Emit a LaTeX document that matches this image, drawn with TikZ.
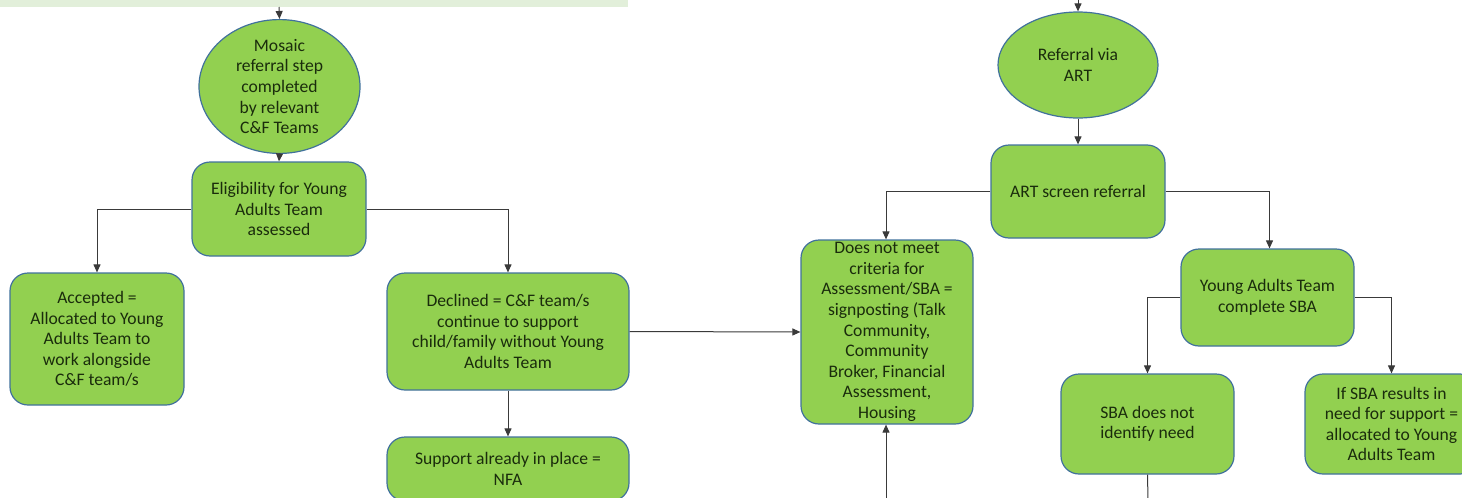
\documentclass[tikz,border=0pt]{standalone}
\usepackage{fontspec}
\setmainfont{Carlito}
\usetikzlibrary{arrows.meta,shapes.geometric}
\definecolor{boxfill}{HTML}{92D050}
\definecolor{boxline}{HTML}{41719C}
\definecolor{txt}{HTML}{1A2C0C}
\definecolor{band}{HTML}{E2EFDA}
\definecolor{conn}{HTML}{3A3A3A}
\begin{document}
\begin{tikzpicture}[x=1pt,y=-1pt,
  every node/.style={font=\fontsize{17.6}{20.6}\selectfont, text=txt, align=center, inner sep=0pt},
  stepbox/.style={draw=boxline, fill=boxfill, line width=1.2pt, rounded corners=18pt, rectangle},
  ovalbox/.style={draw=boxline, fill=boxfill, line width=1.2pt, ellipse},
  conn/.style={draw=conn, line width=1pt, -{Triangle[length=8pt,width=7pt]}},
  plain/.style={draw=conn, line width=1pt}]
\useasboundingbox (0,0) rectangle (1462,498);
\clip (0,0) rectangle (1462,498);
\fill[band] (0,-2) rectangle (628,7);
% left column
\node[ovalbox, minimum width=161pt, minimum height=119pt] (mosaic) at (279.5,86.5) {Mosaic\\referral step\\completed\\by relevant\\C\&F Teams};
\node[stepbox, minimum width=174pt, minimum height=94pt] (elig) at (279,209) {Eligibility for Young\\Adults Team\\assessed};
\node[stepbox, minimum width=174pt, minimum height=132pt] (acc) at (97,339) {Accepted =\\Allocated to Young\\Adults Team to\\work alongside\\C\&F team/s};
\node[stepbox, minimum width=242pt, minimum height=117pt] (dec) at (508,331.5) {Declined = C\&F team/s\\continue to support\\child/family without Young\\Adults Team};
\node[stepbox, minimum width=242pt, minimum height=64pt] (sup) at (508,469) {Support already in place =\\NFA};
% right part
\node[ovalbox, minimum width=160pt, minimum height=106pt] (art) at (1078,65) {Referral via\\ART};
\node[stepbox, minimum width=174pt, minimum height=93pt] (screen) at (1078,191.5) {ART screen referral};
\node[stepbox, minimum width=172pt, minimum height=184pt] (nomeet) at (887,332) {Does not meet\\criteria for\\Assessment/SBA =\\signposting (Talk\\Community,\\Community\\Broker, Financial\\Assessment,\\Housing};
\node[stepbox, minimum width=173pt, minimum height=97pt] (yat) at (1267.5,297.5) {Young Adults Team\\complete SBA};
\node[stepbox, minimum width=173pt, minimum height=100pt] (noneed) at (1147.5,424) {SBA does not\\identify need};
\node[stepbox, minimum width=173pt, minimum height=100pt] (ifsba) at (1391.5,424) {If SBA results in\\need for support =\\allocated to Young\\Adults Team};
% free ends
\coordinate (topL) at (279,7);
\coordinate (topR) at (1078,-2);
\coordinate (botA) at (886,500);
\coordinate (botB) at (1148,500);
% connectors
\draw[conn] (topL) -- (mosaic.north);
\draw[conn] (topR) -- (art.north);
\draw[conn] (mosaic.south) -- (elig.north);
\draw[conn] (elig.west) -| (acc.north);
\draw[conn] (elig.east) -| (dec.north);
\draw[conn] (dec.south) -- (sup.north);
\draw[conn] (dec.east) -- (nomeet.west);
\draw[conn] (art.south) -- (screen.north);
\draw[conn] (screen.west) -| ([xshift=-1pt]nomeet.north);
\draw[conn] (screen.east) -| ([xshift=2pt]yat.north);
\draw[conn] (yat.west) -| (noneed.north);
\draw[conn] (yat.east) -| (ifsba.north);
\draw[conn] (botA) -- ([xshift=-1pt]nomeet.south);
\draw[plain] (noneed.south) -- (botB);
\end{tikzpicture}
\end{document}
